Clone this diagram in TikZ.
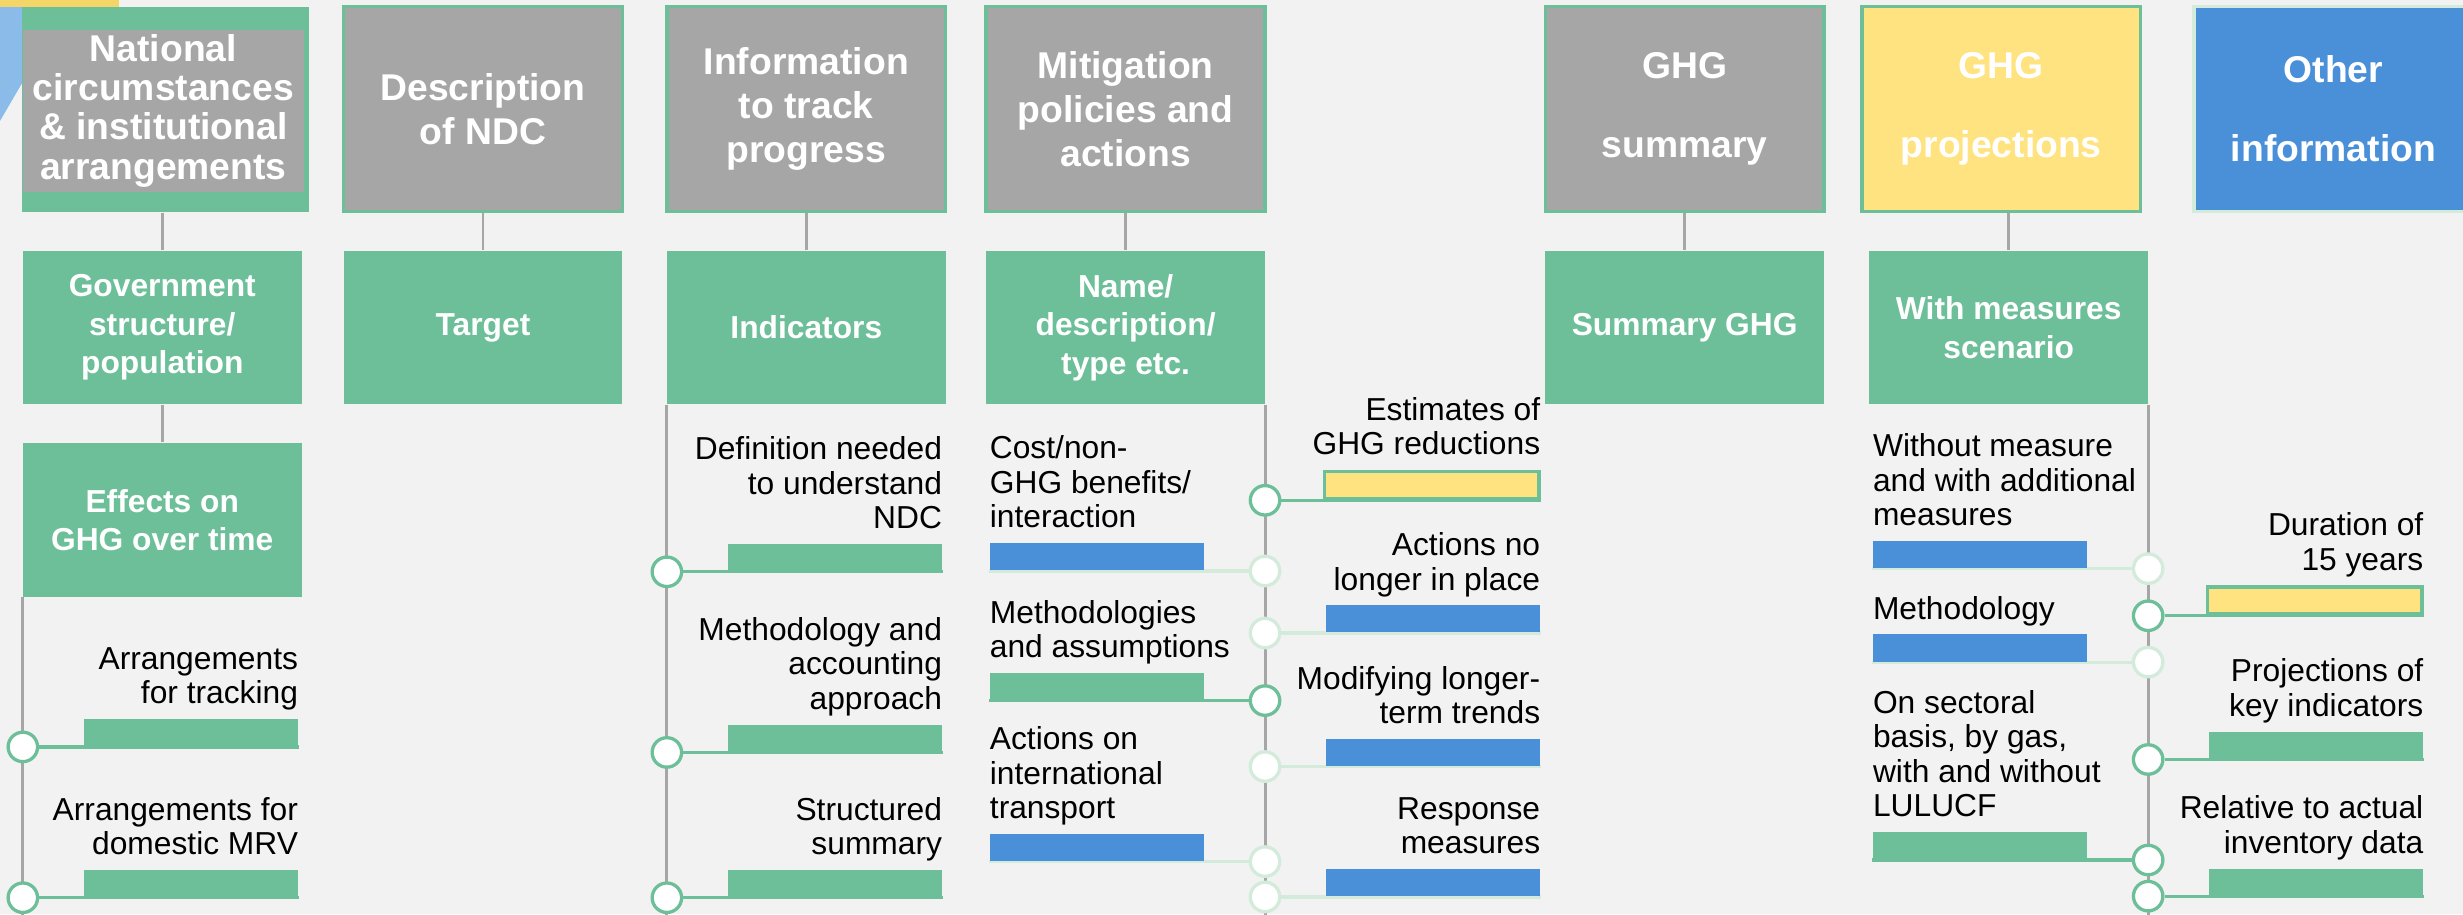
\documentclass[tikz,border=0pt]{standalone}
\usepackage{fontspec}
\setmainfont{Liberation Sans}
\usetikzlibrary{positioning}

\definecolor{paperGray}{HTML}{F2F2F2}
\definecolor{boxGreen}{HTML}{6CBF99}
\definecolor{boxGray}{HTML}{A6A6A6}
\definecolor{boxYellow}{HTML}{FFE380}
\definecolor{boxBlue}{HTML}{4A90D9}
\definecolor{paleGreen}{HTML}{D3EBDB}
\definecolor{stemGray}{HTML}{A6A6A6}
\definecolor{decoBlue}{HTML}{8BBBE8}
\definecolor{decoYellow}{HTML}{F3D667}

\pgfdeclarelayer{paper}
\pgfdeclarelayer{under}
\pgfsetlayers{paper,under,main}

\newcommand\itemFont{\fontsize{11.5}{12.5}\selectfont}
\newcommand\subFont{\fontsize{11.5}{13.9}\selectfont\bfseries}
\newcommand\headFont{\fontsize{13.5}{16}\selectfont\bfseries}

\tikzset{
	headbox/.style={rectangle, fill=boxGray, draw=boxGreen, line width=0.45mm,
		minimum width=35.5mm, minimum height=26.1mm, inner sep=0pt,
		align=center, text=white, font=\headFont},
	subbox/.style={rectangle, fill=boxGreen, minimum width=35.5mm,
		minimum height=19.6mm, inner sep=0pt, align=center, text=white, font=\subFont},
	stem/.style={draw=stemGray, line width=0.35mm},
	ring/.style={circle, fill=white, line width=0.42mm, minimum size=3.75mm, inner sep=0pt},
	barbox/.style={rectangle, minimum width=27.3mm, minimum height=3.45mm, inner sep=0pt},
	greenbar/.style={barbox, fill=boxGreen},
	bluebar/.style={barbox, fill=boxBlue},
	yellowbar/.style={barbox, fill=boxYellow, draw=boxGreen, line width=0.45mm},
	link/.style={line width=0.4mm},
	itemtext/.style={inner sep=0pt, font=\itemFont, execute at end node=\strut}
}

% item right of a spine: name, spine x, y, bar style, link colour, text
\newcommand\itemR[6]{
	\node[ring, draw=#5] (#1Dot) at (#2,#3) {};
	\node[#4, anchor=south east] (#1Bar) at (#2+175.5,#3) {};
	\node[itemtext, align=right, anchor=south east] (#1Txt)
		at ([yshift=0.5mm]#1Bar.north east) {#6};
	\begin{pgfonlayer}{under}
		\draw[link, draw=#5] (#1Dot) -- (#1Bar.south east);
	\end{pgfonlayer}
}
% item left of a spine
\newcommand\itemL[6]{
	\node[ring, draw=#5] (#1Dot) at (#2,#3) {};
	\node[#4, anchor=south west] (#1Bar) at (#2-175.5,#3) {};
	\node[itemtext, align=left, anchor=south west] (#1Txt)
		at ([yshift=0.5mm]#1Bar.north west) {#6};
	\begin{pgfonlayer}{under}
		\draw[link, draw=#5] (#1Dot) -- (#1Bar.south west);
	\end{pgfonlayer}
}

\begin{document}
\begin{tikzpicture}[x=0.2mm, y=-0.2mm]
	\useasboundingbox (0,0) rectangle (1568,582);
	\begin{pgfonlayer}{paper}
		\fill[paperGray] (0,0) rectangle (1568,582);
		\fill[decoYellow] (0,0) rectangle (76,4.5);
		\fill[decoBlue] (0,4.5) -- (14,4.5) -- (14,53) -- (0,77) -- cycle;
	\end{pgfonlayer}
	
	% top row
	\node[rectangle, fill=boxGreen, minimum width=36.6mm, minimum height=26.1mm,
		inner sep=0pt] (natBack) at (105.5,69.8) {};
	\node[headbox, draw=none, minimum width=35.8mm, minimum height=20.6mm,
		font=\fontsize{13.5}{14.2}\selectfont\bfseries] (natHead) at (104,70.5)
		{National\\circumstances\\\& institutional\\arrangements};
	\node[headbox] (descHead) at (307.5,69.3) {Description\\of NDC};
	\node[headbox] (infoHead) at (513.3,69.3) {Information\\to track\\progress};
	\node[headbox] (mitiHead) at (716.6,69.3) {Mitigation\\policies and\\actions};
	\node[headbox, font=\fontsize{13.5}{28.5}\selectfont\bfseries]
		(sumHead) at (1072.5,69.3) {GHG\\summary};
	\node[headbox, fill=boxYellow, font=\fontsize{13.5}{28.5}\selectfont\bfseries]
		(projHead) at (1274,69.3) {GHG\\projections};
	\node[headbox, fill=boxBlue, draw=paleGreen, font=\fontsize{13.5}{28.5}\selectfont\bfseries]
		(otherHead) at (1485.5,69.3) {Other\\information};
	
	% second row
	\node[subbox] (govBox) at (103.3,208.5) {Government\\structure/\\population};
	\node[subbox] (effBox) at (103.3,331) {Effects on\\GHG over time};
	\node[subbox] (targetBox) at (307.5,208.5) {Target};
	\node[subbox] (indBox) at (513.3,208.5) {Indicators};
	\node[subbox] (nameBox) at (716.6,208.5) {Name/\\description/\\type etc.};
	\node[subbox] (sumBox) at (1072.5,208.5) {Summary GHG};
	\node[subbox] (withBox) at (1278.8,208.5) {With measures\\scenario};
	
	\coordinate (spineEnd) at (0,590);
	\begin{pgfonlayer}{under}
		\draw[stem] (govBox.north |- natBack.south) -- (govBox.north);
		\draw[stem] (govBox) -- (effBox);
		\draw[stem] (descHead) -- (targetBox);
		\draw[stem] (infoHead) -- (indBox);
		\draw[stem] (mitiHead) -- (nameBox);
		\draw[stem] (sumHead) -- (sumBox);
		\draw[stem] (withBox.north |- projHead.south) -- (withBox.north);
		\draw[stem] (effBox.south west) -- (effBox.south west |- spineEnd);
		\draw[stem] (indBox.south west) -- (indBox.south west |- spineEnd);
		\draw[stem] (nameBox.south east) -- (nameBox.south east |- spineEnd);
		\draw[stem] (withBox.south east) -- (withBox.south east |- spineEnd);
	\end{pgfonlayer}
	
	% national circumstances
	\itemR{arrTrack}{14.55}{475.5}{greenbar}{boxGreen}{Arrangements\\for tracking}
	\itemR{arrMrv}{14.55}{571.5}{greenbar}{boxGreen}{Arrangements for\\domestic MRV}
	
	% tracking progress
	\itemR{defNdc}{424.55}{364}{greenbar}{boxGreen}{Definition needed\\to understand\\NDC}
	\itemR{methAcc}{424.55}{479}{greenbar}{boxGreen}{Methodology and\\accounting\\approach}
	\itemR{strSum}{424.55}{571.5}{greenbar}{boxGreen}{Structured\\summary}
	
	% mitigation
	\itemL{costBen}{805.35}{363.5}{bluebar}{paleGreen}{Cost/non-\\GHG benefits/\\interaction}
	\itemL{methAss}{805.35}{446}{greenbar}{boxGreen}{Methodologies\\and assumptions}
	\itemL{intTrans}{805.35}{548.5}{bluebar}{paleGreen}{Actions on\\international\\transport}
	\itemR{estRed}{805.35}{318.5}{yellowbar}{boxGreen}{Estimates of\\GHG reductions}
	\itemR{noLonger}{805.35}{403}{bluebar}{paleGreen}{Actions no\\longer in place}
	\itemR{longTerm}{805.35}{488}{bluebar}{paleGreen}{Modifying longer-\\term trends}
	\itemR{respMeas}{805.35}{571}{bluebar}{paleGreen}{Response\\measures}
	
	% projections
	\itemL{withoutMeas}{1367.55}{362}{bluebar}{paleGreen}{Without measure\\and with additional\\measures}
	\itemL{projMeth}{1367.55}{421.5}{bluebar}{paleGreen}{Methodology}
	\itemL{sectBasis}{1367.55}{547.5}{greenbar}{boxGreen}{On sectoral\\basis, by gas,\\with and without\\LULUCF}
	\itemR{duration}{1367.55}{392}{yellowbar}{boxGreen}{Duration of\\15 years}
	\itemR{keyInd}{1367.55}{483.5}{greenbar}{boxGreen}{Projections of\\key indicators}
	\itemR{invData}{1367.55}{570.5}{greenbar}{boxGreen}{Relative to actual\\inventory data}
\end{tikzpicture}
\end{document}
